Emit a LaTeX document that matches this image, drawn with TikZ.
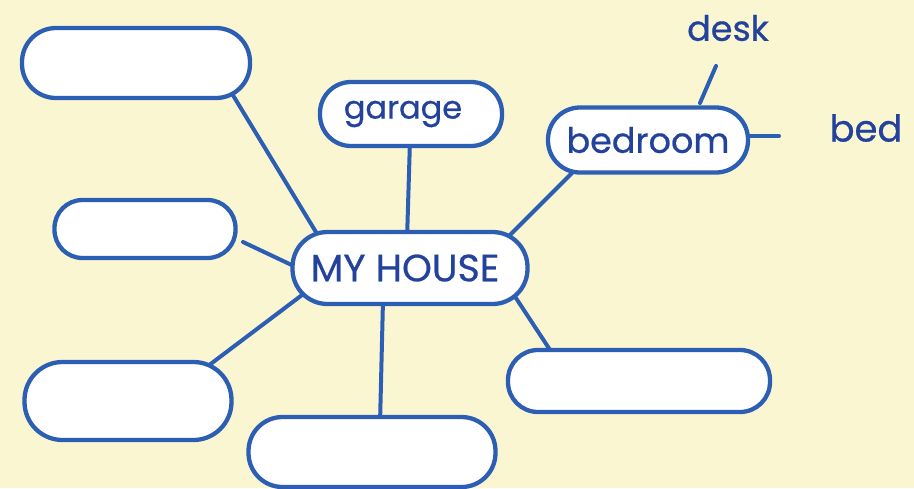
\documentclass[tikz,border=0pt]{standalone}
\usepackage{fontspec}
\setmainfont{Poppins}[FakeBold=0.6]
\usetikzlibrary{calc}
\definecolor{paper}{HTML}{FBF6D2}
\definecolor{ink}{HTML}{2C5FB3}
\definecolor{txt}{HTML}{23429C}
\pgfdeclarelayer{background}
\pgfdeclarelayer{paperlayer}
\pgfsetlayers{paperlayer,background,main}
\tikzset{
  bubble/.style={draw=ink, fill=white, line width=4.3pt, rounded corners=#1, inner sep=0pt},
  link/.style={draw=ink, line width=4pt, line cap=round},
  word/.style={text=txt, inner sep=0pt}
}
\begin{document}
\begin{tikzpicture}[x=1pt,y=-1pt]
\begin{pgfonlayer}{paperlayer}
\fill[paper] (0,0) rectangle (914,488);
\end{pgfonlayer}
\useasboundingbox (0,0) rectangle (914,488);
% bubbles
\node[bubble=34pt, minimum width=228pt, minimum height=70pt] (tl) at (136,63) {};
\node[bubble=31pt, minimum width=182pt, minimum height=64pt, font=\fontsize{32}{32}\selectfont, text=txt] (garage) at (411,114) {\hspace*{-16pt}\raisebox{2pt}{garage}};
\node[bubble=32pt, minimum width=200pt, minimum height=65pt, font=\fontsize{35}{35}\selectfont, text=txt] (bedroom) at (648,140) {\raisebox{-3pt}{bedroom}};
\node[bubble=28pt, minimum width=181pt, minimum height=58pt] (ml) at (145,229) {};
\node[bubble=35pt, minimum width=235pt, minimum height=72pt, font=\fontsize{38}{38}\selectfont, text=txt] (house) at (410,268) {\hspace*{-10pt}MY HOUSE};
\node[bubble=38pt, minimum width=207pt, minimum height=78pt] (bl) at (128,401) {};
\node[bubble=34pt, minimum width=247pt, minimum height=70pt] (bm) at (372,452) {};
\node[bubble=30pt, minimum width=262pt, minimum height=62pt] (rb) at (639,381) {};
% leaf words
\node[word, font=\fontsize{35}{35}\selectfont] (desk) at (728,28) {desk};
\node[word, font=\fontsize{37}{37}\selectfont] (bed) at (866,128) {bed};
\coordinate (mlend) at (243,242);
\coordinate (deskend) at (716,66);
\coordinate (bedend) at (779,136);
% connectors
\begin{pgfonlayer}{background}
\draw[link] ($(tl.center)+(92,24)$) -- ($(house.center)+(-88,-26)$);
\draw[link] ($(garage.center)+(-1,26)$) -- ($(house.center)+(-3,-28)$);
\draw[link] ($(bedroom.center)+(-69,26)$) -- ($(house.center)+(93,-26)$);
\draw[link] (mlend) -- ($(house.center)+(-112,0)$);
\draw[link] ($(bl.center)+(72,-29)$) -- ($(house.center)+(-100,21)$);
\draw[link] ($(house.center)+(-27,32)$) -- ($(bm.center)+(8,-28)$);
\draw[link] ($(house.center)+(102,24)$) -- ($(rb.center)+(-83,-22)$);
\end{pgfonlayer}
\draw[link] (deskend) -- ($(bedroom.center)+(52,-37)$);
\draw[link] ($(bedroom.east)+(0,-4)$) -- (bedend);
\end{tikzpicture}
\end{document}
